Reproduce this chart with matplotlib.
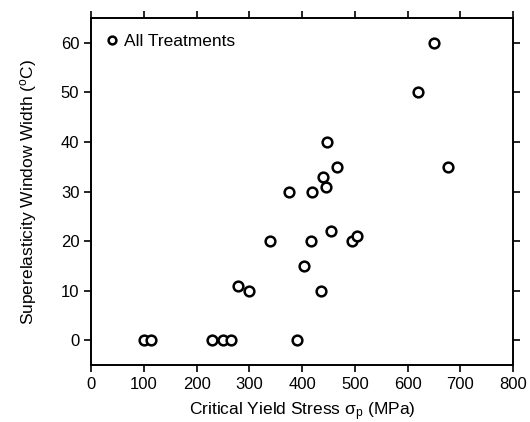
import matplotlib as mpl
from matplotlib import pyplot as plt

mpl.rcParams["font.family"] = ["Liberation Sans", "DejaVu Sans"]
mpl.rcParams["mathtext.fontset"] = "custom"
mpl.rcParams["mathtext.rm"] = "Liberation Sans"
mpl.rcParams["mathtext.it"] = "Liberation Sans:italic"

# critical yield stress (MPa) vs superelasticity window width (C)
stress = [100, 113, 229, 250, 265, 390, 279, 300, 339, 403, 417, 436,
          455, 494, 504, 376, 418, 439, 445, 447, 467, 619, 651, 676]
width = [0, 0, 0, 0, 0, 0, 11, 10, 20, 15, 20, 10,
         22, 20, 21, 30, 30, 33, 31, 40, 35, 50, 60, 35]

fig = plt.figure(figsize=(5.30, 4.22), dpi=100)
ax = fig.add_axes([0.172, 0.135, 0.796, 0.822])

ax.plot(stress, width, linestyle="none", marker="o", markersize=7,
        mfc="white", mec="black", mew=1.8, label="All Treatments")

ax.set_xlim(0, 800)
ax.set_ylim(-5, 65)
ax.set_xticks(range(0, 801, 100))
ax.set_yticks(range(0, 61, 10))
ax.tick_params(direction="out", length=5, width=1.2, labelsize=12,
               top=True, right=True, labeltop=False, labelright=False)
for s in ax.spines.values():
    s.set_linewidth(1.4)

ax.set_xlabel("Critical Yield Stress σ$_\\mathrm{p}$ (MPa)", fontsize=12.5,
              labelpad=6)
ax.set_ylabel(r"Superelasticity Window Width ($^\mathrm{o}$C)", fontsize=12.5,
              labelpad=16)

ax.legend(loc="upper left", frameon=False, fontsize=12.5, handlelength=0.6,
          handletextpad=0.4, borderaxespad=0.5, markerscale=0.8)

fig.savefig("out.png", dpi=100)
